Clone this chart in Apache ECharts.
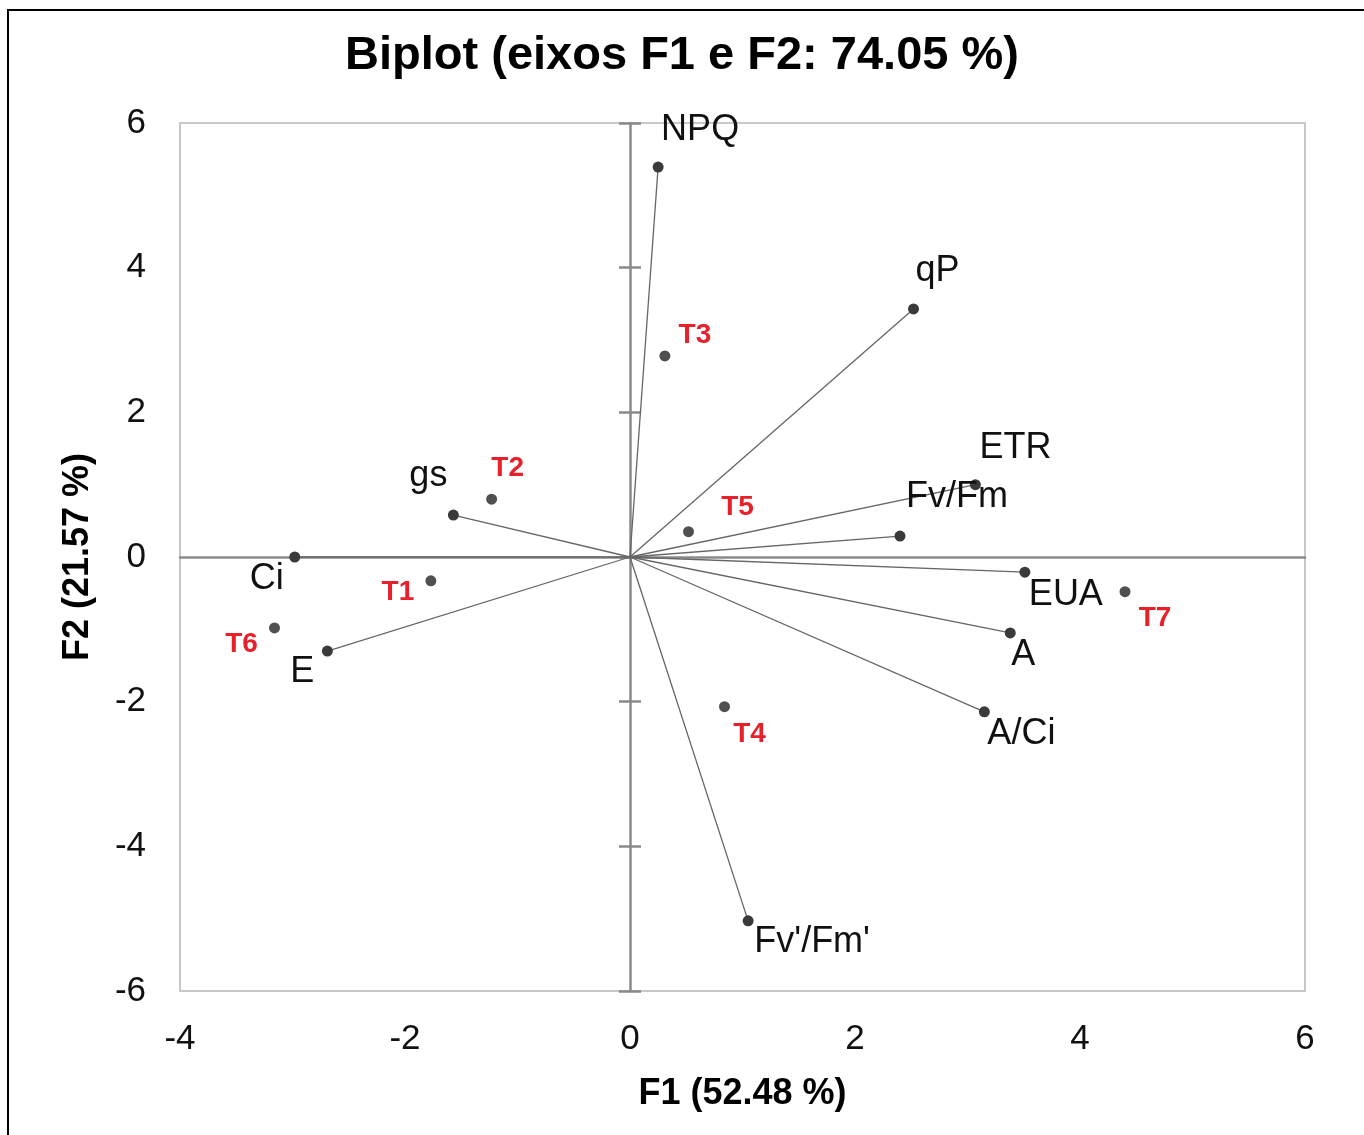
<!DOCTYPE html>
<html>
<head>
<meta charset="utf-8">
<script src="https://cdn.jsdelivr.net/npm/echarts@6/dist/echarts.min.js"></script>
<style>html,body{margin:0;padding:0;background:#fff;}#c{width:1364px;height:1135px;}</style>
</head>
<body>
<div id="c"></div>
<script>
// Variables (loadings, arrows from origin)
const varNames = ['NPQ','qP','ETR','Fv/Fm','EUA','A','A/Ci',"Fv'/Fm'",'E','Ci','gs'];
const varF1 = [0.25, 2.52, 3.07, 2.40, 3.51, 3.38, 3.15, 1.05, -2.69, -2.98, -1.57];
const varF2 = [5.39, 3.43, 1.00, 0.29, -0.21, -1.05, -2.14, -5.03, -1.30, 0.00, 0.58];
// Treatments (observations)
const obsNames = ['T1','T2','T3','T4','T5','T6','T7'];
const obsF1 = [-1.77, -1.23, 0.31, 0.84, 0.52, -3.16, 4.40];
const obsF2 = [-0.33, 0.80, 2.78, -2.07, 0.35, -0.98, -0.48];
// Axis ticks
const xTicks = [-4, -2, 0, 2, 4, 6];
const yTicks = [-6, -4, -2, 0, 2, 4, 6];

// Label placement (pixels relative to the point)
const varLabelOffset = {
  'NPQ':[42,-37],'qP':[24,-38],'ETR':[40,-37],'Fv/Fm':[57,-39],'EUA':[41,23],'A':[13,22],
  'A/Ci':[37,22],"Fv'/Fm'":[64,21],'E':[-25,21],'Ci':[-28,22],'gs':[-25,-39]
};
const obsLabelOffset = {
  'T1':[-33,11],'T2':[16,-31],'T3':[30,-21],'T4':[25,28],'T5':[49,-24],'T6':[-33,16],'T7':[30,27]
};

const FONT = 'Arial, "Liberation Sans", sans-serif';
const xStep = xTicks[1] - xTicks[0];
const yStep = yTicks[1] - yTicks[0];

const lineSeries = varNames.map((n, i) => ({
  type: 'line', name: n + '_vec', silent: true, symbol: 'none',
  data: [[0, 0], [varF1[i], varF2[i]]],
  lineStyle: {color: '#666', width: 1.3}, z: 3, animation: false
}));

const option = {
  backgroundColor: '#fff',
  animation: false,
  title: {
    text: 'Biplot (eixos F1 e F2: 74.05 %)', left: 'center', top: 28,
    textStyle: {fontFamily: FONT, fontSize: 47, fontWeight: 'bold', color: '#000'}
  },
  graphic: [{
    type: 'rect', shape: {x: 8, y: 10, width: 1400, height: 1200},
    style: {fill: 'none', stroke: '#000', lineWidth: 2}, silent: true, z: 100
  }],
  grid: {left: 180, right: 59, top: 123, bottom: 144, show: true, borderColor: '#c8c8c8', borderWidth: 2, backgroundColor: 'transparent'},
  xAxis: [{
    type: 'value', min: xTicks[0], max: xTicks[xTicks.length - 1], interval: xStep,
    position: 'bottom',
    axisLine: {show: false, onZero: false}, axisTick: {show: false}, splitLine: {show: false},
    axisLabel: {fontFamily: FONT, fontSize: 35, color: '#111', margin: 31},
    name: 'F1 (52.48 %)', nameLocation: 'middle', nameGap: 85,
    nameTextStyle: {fontFamily: FONT, fontSize: 36, fontWeight: 'bold', color: '#000'}
  }, {
    type: 'value', min: xTicks[0], max: xTicks[xTicks.length - 1], interval: xStep,
    axisLine: {show: true, onZero: true, onZeroAxisIndex: 0, lineStyle: {color: '#8a8a8a', width: 2.5}},
    axisTick: {show: false}, axisLabel: {show: false}, splitLine: {show: false}
  }],
  yAxis: [{
    type: 'value', min: yTicks[0], max: yTicks[yTicks.length - 1], interval: yStep,
    position: 'left',
    axisLine: {show: false, onZero: false}, axisTick: {show: false}, splitLine: {show: false},
    axisLabel: {fontFamily: FONT, fontSize: 35, color: '#111', margin: 34},
    name: 'F2 (21.57 %)', nameLocation: 'middle', nameGap: 84,
    nameTextStyle: {fontFamily: FONT, fontSize: 36, fontWeight: 'bold', color: '#000'}
  }, {
    type: 'value', min: yTicks[0], max: yTicks[yTicks.length - 1], interval: yStep,
    axisLine: {show: true, onZero: true, onZeroAxisIndex: 0, lineStyle: {color: '#8a8a8a', width: 2.5}},
    axisTick: {show: true, inside: true, length: 11, lineStyle: {color: '#8a8a8a', width: 2.5}},
    axisLabel: {show: false}, splitLine: {show: false}
  }, {
    type: 'value', min: yTicks[0], max: yTicks[yTicks.length - 1], interval: yStep,
    axisLine: {show: false, onZero: true, onZeroAxisIndex: 0},
    axisTick: {show: true, inside: false, length: 11, lineStyle: {color: '#8a8a8a', width: 2.5}},
    axisLabel: {show: false}, splitLine: {show: false}
  }],
  series: lineSeries.concat([{
    type: 'scatter', name: 'variables', symbol: 'circle', symbolSize: 11, z: 5,
    itemStyle: {color: '#3a3a3a', opacity: 1},
    data: varNames.map((n, i) => ({
      name: n, value: [varF1[i], varF2[i]],
      label: {show: true, position: 'inside', offset: varLabelOffset[n], formatter: n, opacity: 1,
        fontFamily: FONT, fontSize: 36, color: '#111', align: 'center', verticalAlign: 'middle'}
    }))
  }, {
    type: 'scatter', name: 'treatments', symbol: 'circle', symbolSize: 11, z: 5,
    itemStyle: {color: '#505050', opacity: 1},
    data: obsNames.map((n, i) => ({
      name: n, value: [obsF1[i], obsF2[i]],
      label: {show: true, position: 'inside', offset: obsLabelOffset[n], formatter: n, opacity: 1,
        fontFamily: FONT, fontSize: 28, fontWeight: 'bold', color: '#e8202a', align: 'center', verticalAlign: 'middle'}
    }))
  }])
};

const chart = echarts.init(document.getElementById('c'), null, {renderer: 'canvas'});
chart.setOption(option);
</script>
</body>
</html>
